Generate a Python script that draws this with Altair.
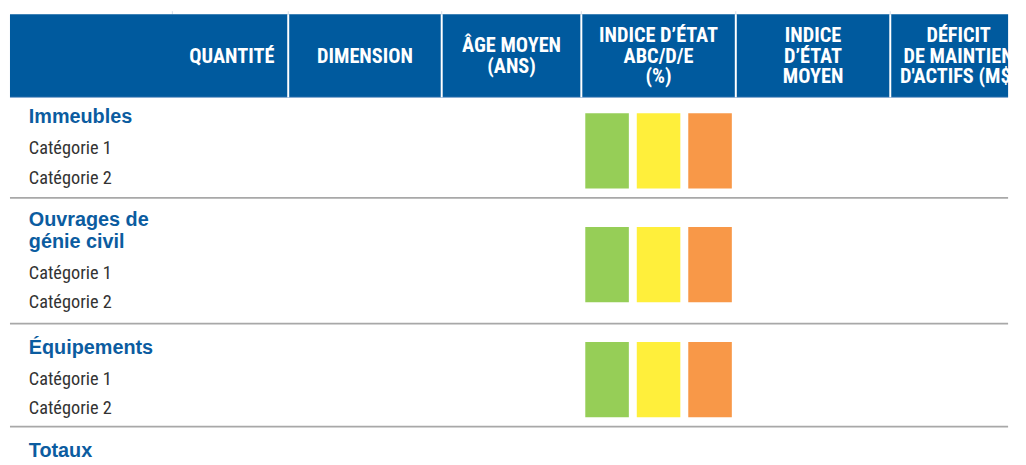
import altair as alt
import pandas as pd

# ---- content -------------------------------------------------------------
column_titles = ["", "QUANTITÉ", "DIMENSION", "ÂGE MOYEN\n(ANS)",
                 "INDICE D’ÉTAT\nABC/D/E\n(%)", "INDICE\nD’ÉTAT\nMOYEN",
                 "DÉFICIT\nDE MAINTIEN\nD'ACTIFS (M$)"]
groups = ["Immeubles", "Ouvrages de\ngénie civil", "Équipements", "Totaux"]
categories = ["Catégorie 1", "Catégorie 2"]
condition_levels = ["ABC", "D", "E"]
condition_colors = ["#96CE57", "#FFEF3B", "#F89848"]

# ---- layout (page pixels) -------------------------------------------------
M = 8                      # page margin
W, H = 1010, 444           # chart size
col_edges = [10, 174, 291, 446, 587, 743, 899, 1037]
header_top, header_bottom = 11, 95
header_mid = 53
header_lh = 21
group_label_y = [114, 229, 347, 451]
group_lh = 23
category_y = [[145, 175], [271, 301], [378, 408]]
separators_y = [196.5, 323.5, 427.5]
block_top = [111, 226, 342]
block_h = 76
block_w, block_gap = 44, 8
block_left = 591
label_x = 29
quant_right = 277

BLUE = "#005A9E"
LABEL_BLUE = "#0B5CA0"
NARROW = "Roboto Condensed, Liberation Sans Narrow, Arial Narrow, DejaVu Sans Condensed, sans-serif"
SANS = "Liberation Sans, Arial, sans-serif"

def px(v):
    return v - M

def first_line(center, text, lh):
    n = text.count("\n") + 1
    return center - (n - 1) / 2 * lh

xs = alt.Scale(domain=[0, W], nice=False)
ys = alt.Scale(domain=[H, 0], nice=False)
X = lambda f: alt.X(f, scale=xs, axis=None)
Y = lambda f: alt.Y(f, scale=ys, axis=None)

# header band
hdr = pd.DataFrame({"x": [px(col_edges[0])], "x2": [W], "y": [px(header_top)], "y2": [px(header_bottom)]})
header = alt.Chart(hdr).mark_rect(color=BLUE).encode(x=X("x:Q"), x2="x2:Q", y=Y("y:Q"), y2="y2:Q")
under = alt.Chart(hdr).mark_rule(color="#7FA5CC", strokeWidth=1).encode(x=X("x:Q"), x2="x2:Q", y=Y("y2:Q"))

# white column separators inside header
sep_cols = pd.DataFrame({"x": [px(e) for e in col_edges[2:7]], "y": px(header_top), "y2": px(header_bottom)})
hsep = alt.Chart(sep_cols).mark_rule(color="white", strokeWidth=2).encode(x=X("x:Q"), y=Y("y:Q"), y2="y2:Q")

# faint ticks above header
tick_cols = pd.DataFrame({"x": [px(e) for e in col_edges[1:7]], "y": 0, "y2": px(header_top)})
ticks = alt.Chart(tick_cols).mark_rule(color="#D3DDE8", strokeWidth=1).encode(x=X("x:Q"), y=Y("y:Q"), y2="y2:Q")

# header titles
centers = [(col_edges[i] + col_edges[i + 1]) / 2 for i in range(len(col_edges) - 1)]
ht = pd.DataFrame({"t": column_titles[2:], "x": [px(c) for c in centers[2:]],
                   "y": [px(first_line(header_mid, t, header_lh)) + 1 for t in column_titles[2:]]})
htext = alt.Chart(ht).mark_text(font=NARROW, fontSize=20.5, fontWeight="bold", color="white",
                                 align="center", baseline="middle", lineBreak="\n",
                                 lineHeight=header_lh).encode(x=X("x:Q"), y=Y("y:Q"), text="t:N")
hq = pd.DataFrame({"t": [column_titles[1]], "x": [px(quant_right)], "y": [px(header_mid) + 1]})
hqtext = alt.Chart(hq).mark_text(font=NARROW, fontSize=20.5, fontWeight="bold", color="white",
                                  align="right", baseline="middle").encode(x=X("x:Q"), y=Y("y:Q"), text="t:N")

# row separators
rs = pd.DataFrame({"y": [px(v) for v in separators_y], "x": px(col_edges[0]), "x2": W})
rsep = alt.Chart(rs).mark_rule(color="#A8A8A8", strokeWidth=1.6).encode(x=X("x:Q"), x2="x2:Q", y=Y("y:Q"))

# group labels
gl = pd.DataFrame({"t": groups, "x": px(label_x),
                   "y": [px(first_line(c, t, group_lh)) + 1 for c, t in zip(group_label_y, groups)]})
gtext = alt.Chart(gl).mark_text(font=SANS, fontSize=20, fontWeight="bold", color=LABEL_BLUE,
                                 align="left", baseline="middle", lineBreak="\n",
                                 lineHeight=group_lh).encode(x=X("x:Q"), y=Y("y:Q"), text="t:N")

# categories
rows = []
for g, yy_list in enumerate(category_y):
    for c, yy in zip(categories, yy_list):
        rows.append({"grp": groups[g], "t": c, "x": px(label_x), "y": px(yy) + 1})
cl = pd.DataFrame(rows)
ctext = alt.Chart(cl).mark_text(font=NARROW, fontSize=18.5, color="#333333",
                                 align="left", baseline="middle").encode(x=X("x:Q"), y=Y("y:Q"), text="t:N")

# condition blocks
brows = []
for g, top in enumerate(block_top):
    for i, lev in enumerate(condition_levels):
        x0 = block_left + i * (block_w + block_gap)
        brows.append({"grp": groups[g], "level": lev, "x": px(x0), "x2": px(x0 + block_w),
                      "y": px(top), "y2": px(top + block_h)})
bd = pd.DataFrame(brows)
blocks = alt.Chart(bd).mark_rect().encode(
    x=X("x:Q"), x2="x2:Q", y=Y("y:Q"), y2="y2:Q",
    color=alt.Color("level:N", scale=alt.Scale(domain=condition_levels, range=condition_colors), legend=None))

chart = alt.layer(ticks, header, under, hsep, htext, hqtext, rsep, gtext, ctext, blocks).properties(
    width=W, height=H, padding=0, background="white"
).configure_view(stroke=None)

chart.save("out.html", embed_options={"renderer": "svg", "actions": False})
